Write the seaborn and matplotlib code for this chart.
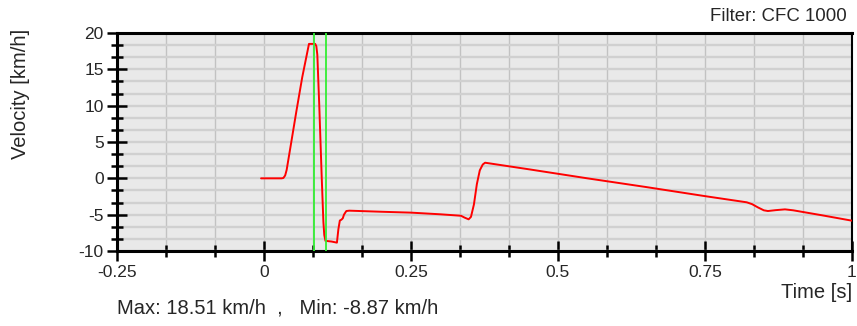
import numpy as np
import pandas as pd
import matplotlib
matplotlib.use("Agg")
import matplotlib.pyplot as plt
from matplotlib.ticker import MultipleLocator, FixedLocator
import seaborn as sns

# ---- data ----
time_s = [-0.005, 0.030, 0.033, 0.036, 0.0385, 0.045, 0.055, 0.065, 0.0765, 0.087,
          0.089, 0.0907, 0.094, 0.098, 0.101, 0.1025, 0.1045, 0.115, 0.124, 0.1265,
          0.129, 0.1315, 0.134, 0.136, 0.140, 0.145, 0.20, 0.25, 0.30, 0.335, 0.341,
          0.348, 0.352, 0.357, 0.362, 0.367, 0.372, 0.376, 0.45, 0.55, 0.65, 0.75,
          0.821, 0.830, 0.840, 0.850, 0.857, 0.870, 0.886, 0.900, 0.950, 1.000]
velocity = [0.0, 0.0, 0.05, 0.4, 1.15, 4.3, 9.2, 13.9, 18.5, 18.5,
            18.2, 17.0, 10.0, 0.5, -6.0, -7.8, -8.6, -8.7, -8.85, -7.0,
            -5.8, -5.7, -5.5, -5.0, -4.5, -4.45, -4.6, -4.72, -4.95, -5.15, -5.4,
            -5.64, -5.3, -3.6, -0.8, 1.1, 1.9, 2.15, 1.25, 0.0, -1.2, -2.45,
            -3.3, -3.55, -4.0, -4.4, -4.5, -4.38, -4.27, -4.4, -5.1, -5.83]
markers_t = [0.085, 0.105]
x_ticks = [-0.25, 0.0, 0.25, 0.5, 0.75, 1.0]
x_tick_labels = ["-0.25", "0", "0.25", "0.5", "0.75", "1"]
y_ticks = [-10, -5, 0, 5, 10, 15, 20]
y_tick_labels = ["-10", "-5", "0", "5", "10", "15", "20"]
max_v = 18.51
min_v = -8.87

df = pd.DataFrame({"t": time_s, "v": velocity})

sns.set_style("white", {"axes.facecolor": "#e9e9e9"})
plt.rcParams["font.family"] = ["Liberation Sans", "DejaVu Sans"]

fig = plt.figure(figsize=(8.57, 3.26), dpi=100)
ax = fig.add_axes([117 / 857, 75 / 326, 735 / 857, 218 / 326])

ax.set_xlim(-0.25, 1.0)
ax.set_ylim(-10, 20)

# grid
ax.xaxis.set_major_locator(FixedLocator(x_ticks))
ax.xaxis.set_minor_locator(MultipleLocator(1 / 12))
ax.yaxis.set_major_locator(FixedLocator(y_ticks))
ax.yaxis.set_minor_locator(MultipleLocator(5 / 3))
ax.set_axisbelow(True)
ax.xaxis.grid(True, which="both", color="#c2c2c2", lw=1.0)
ax.yaxis.grid(True, which="both", color="#d0d0d0", lw=1.7)

sns.lineplot(data=df, x="t", y="v", sort=False, color="#ff0000", lw=1.4,
             ax=ax, zorder=3)
for m in markers_t:
    ax.axvline(m, color="#33ee33", lw=1.3, zorder=4)

ax.set_xticks(x_ticks)
ax.set_xticklabels(x_tick_labels)
ax.set_yticks(y_ticks)
ax.set_yticklabels(y_tick_labels)

ax.tick_params(axis="both", which="both", bottom=True, left=True,
               top=False, right=False)
ax.tick_params(axis="both", which="major", direction="inout", length=15,
               width=1.8, color="black", labelsize=12.5)
ax.tick_params(axis="both", which="minor", direction="inout", length=8,
               width=1.8, color="black")
ax.tick_params(axis="x", which="major", pad=2.5)
ax.tick_params(axis="y", which="major", pad=2)

for side in ["left", "bottom", "top"]:
    ax.spines[side].set_visible(True)
    ax.spines[side].set_color("black")
    ax.spines[side].set_linewidth(2.2)
ax.spines["right"].set_visible(True)
ax.spines["right"].set_color("black")
ax.spines["right"].set_linewidth(1.5)

ax.set_xlabel("")
ax.set_ylabel("")

fig.text(21 / 857, 1 - 93.5 / 326, "Velocity [km/h]", rotation=90,
         ha="center", va="center", fontsize=14.5)
fig.text(852 / 857, 1 - 292 / 326, "Time [s]", ha="right", va="center",
         fontsize=14.5)
fig.text(117 / 857, 1 - 308 / 326,
         f"Max: {max_v:.2f} km/h  ,   Min: {min_v:.2f} km/h",
         ha="left", va="center", fontsize=14.5)
fig.text(847 / 857, 1 - 16.5 / 326, "Filter: CFC 1000", ha="right",
         va="center", fontsize=13.4)

fig.savefig("out.png", dpi=100)
